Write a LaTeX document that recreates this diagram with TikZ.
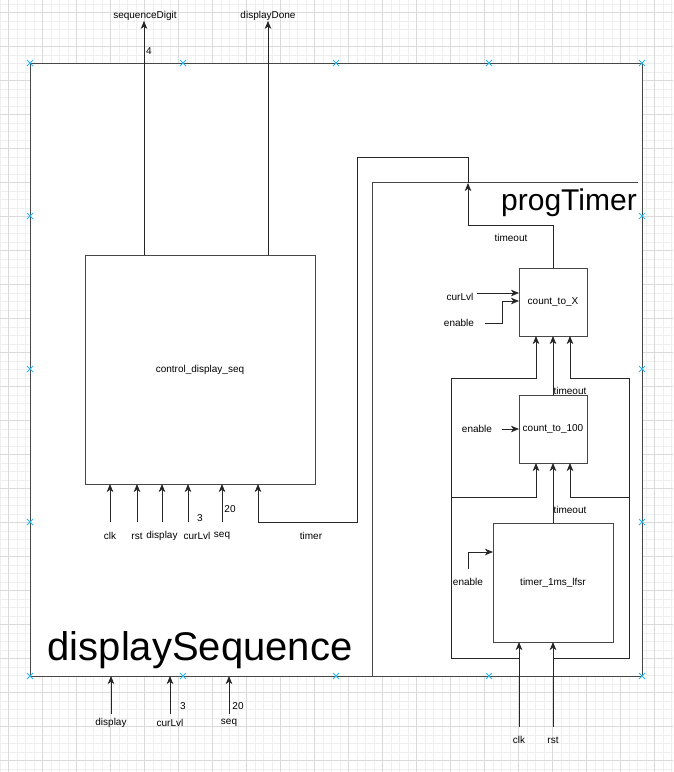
\documentclass[tikz,border=0pt]{standalone}
\usepackage{fontspec}
\setmainfont{Liberation Sans}
\usetikzlibrary{arrows.meta}

\definecolor{gridmin}{HTML}{EFEFEF}
\definecolor{gridmaj}{HTML}{DADADA}
\definecolor{handle}{HTML}{29B6F2}

\begin{document}
\begin{tikzpicture}[x=1pt,y=-1pt,
    frame/.style={draw=black!72, line width=0.9pt},
    block/.style={frame, fill=white, inner sep=0pt, outer sep=0pt, font=\fontsize{10}{12}\selectfont},
    wire/.style={draw=black!85, line width=0.85pt},
    sig/.style={wire, -{Stealth[length=8pt,width=6.5pt,inset=2.2pt]}},
    lbl/.style={inner sep=0pt, font=\fontsize{10}{12}\selectfont},
    hdl/.style={draw=handle, line width=1pt}]
  \useasboundingbox (0,0) rectangle (673,772);

  % Background grid
  \foreach \k in {-1,...,79}
    \draw[gridmin, line width=0.5pt] ({8.3+8.5*\k},0) -- ({8.3+8.5*\k},772);
  \foreach \k in {-2,...,90}
    \draw[gridmin, line width=0.5pt] (0,{12.7+8.5*\k}) -- (673,{12.7+8.5*\k});
  \foreach \k in {0,...,19}
    \draw[gridmaj, line width=0.6pt] ({8.3+34*\k},0) -- ({8.3+34*\k},772);
  \foreach \k in {0,...,22}
    \draw[gridmaj, line width=0.6pt] (0,{12.7+34*\k}) -- (673,{12.7+34*\k});

  % displaySequence
  \node[block, minimum width=612pt, minimum height=613pt] (dseq) at (336,369.5) {};
  \node[anchor=base, inner sep=0pt, font=\fontsize{40}{44}\selectfont] (dstitle) at (200,660) {displaySequence};

  % control_display_seq
  \node[block, minimum width=230pt, minimum height=229pt] (ctrl) at (200,369.5) {control\_display\_seq};

  % Outputs
  \node[lbl] (sdl) at (145,16) {sequenceDigit};
  \coordinate (sdo) at (144,255);
  \draw[sig] (sdo) -- (sdo |- sdl.south);
  \node[lbl] (w4) at (149,51) {4};
  \node[lbl] (ddl) at (268,16) {displayDone};
  \coordinate (ddo) at (268,255);
  \draw[sig] (ddo) -- (ddo |- ddl.south);

  % Inputs of control_display_seq
  \foreach \x/\lx/\txt [count=\i] in {110/110/clk, 137/137/rst, 162/162/display, 188/197/curLvl, 222/222/seq} {
    \coordinate (cin\i) at (\x,522);
    \node[lbl] (cinl\i) at (\lx,536) {\txt};
    \draw[sig] (cin\i) -- (cin\i |- ctrl.south);
  }
  \node[lbl] (w3a) at (200,518) {3};
  \node[lbl] (w20a) at (230,509) {20};

  % Inputs of displaySequence
  \foreach \x/\txt [count=\i] in {111/display, 170/curLvl, 229/seq} {
    \coordinate (din\i) at (\x,714);
    \node[lbl] (dinl\i) at (\x,723) {\txt};
    \draw[sig] (din\i) -- (din\i |- dseq.south);
  }
  \node[lbl] (w3b) at (183,706) {3};
  \node[lbl] (w20b) at (238,706) {20};

  % progTimer
  \node[inner sep=0pt, minimum width=265pt, minimum height=494pt] (ptimer) at (505.5,430) {};
  \draw[frame] (ptimer.south west) |- (ptimer.north east);
  \node[anchor=base east, inner sep=0pt, font=\fontsize{30}{34}\selectfont] (pttitle) at (637,210) {progTimer};

  \node[block, minimum size=68pt] (cx) at (553,302) {count\_to\_X};
  \node[block, minimum size=68pt] (c100) at (553,429) {count\_to\_100};
  \node[block, minimum width=120pt, minimum height=119pt] (tl) at (553,582.5) {timer\_1ms\_lfsr};

  % timeout chain
  \coordinate (pto) at (468,183);
  \coordinate (tob) at (468,225);
  \draw[sig] (cx.north) |- (tob) -- (pto);
  \node[lbl] (to1) at (511,238) {timeout};
  \draw[sig] (c100.north) -- (cx.south);
  \node[lbl] (to2) at (570,391) {timeout};
  \draw[sig] (tl.north) -- (c100.south);
  \node[lbl] (to3) at (570,510) {timeout};

  % timer back to control_display_seq
  \coordinate (tm1) at (468,157);
  \coordinate (tm2) at (357,522);
  \coordinate (tmr) at (258,522);
  \draw[sig] (pto) -- (tm1) -| (tm2) -- (tmr) -- (tmr |- ctrl.south);
  \node[lbl] (tmrl) at (311,536) {timer};

  % enable / curLvl
  \node[lbl] (cxl1) at (460,297) {curLvl};
  \coordinate (cxa) at (477,293);
  \draw[sig] (cxa) -- (cxa -| cx.west);
  \node[lbl] (cxl2) at (459,323) {enable};
  \coordinate (cxb) at (485,323);
  \coordinate (cxbt) at (502,301);
  \draw[sig] (cxb) -| (cxbt) -- (cxbt -| cx.west);
  \node[lbl] (c100l) at (477,429) {enable};
  \coordinate (c100a) at (502,429);
  \draw[sig] (c100a) -- (c100a -| c100.west);
  \node[lbl] (tll) at (468,582) {enable};
  \coordinate (tla) at (468,569);
  \coordinate (tlb) at (468,552);
  \draw[sig] (tla) -- (tlb) -- (tlb -| tl.west);

  % clk and rst
  \coordinate (clkin) at (519,727);
  \node[lbl] (clkl) at (519,740) {clk};
  \draw[sig] (clkin) -- (clkin |- tl.south);
  \coordinate (rstin) at (553,727);
  \node[lbl] (rstl) at (553,740) {rst};
  \draw[sig] (rstin) -- (rstin |- tl.south);

  \coordinate (clkj) at (519,658);
  \coordinate (ck2) at (451,378);
  \coordinate (ck3) at (451,497);
  \coordinate (cxs1) at (536,336);
  \coordinate (c100s1) at (536,463);
  \draw[sig] (clkj) -| (ck2) -| (cxs1);
  \draw[sig] (ck3) -| (c100s1);
  \coordinate (rstj) at (553,658);
  \coordinate (rk2) at (629,378);
  \coordinate (rk3) at (629,497);
  \coordinate (cxs3) at (570,336);
  \coordinate (c100s3) at (570,463);
  \draw[sig] (rstj) -| (rk2) -| (cxs3);
  \draw[sig] (rk3) -| (c100s3);

  % Selection handles
  \foreach \x/\y in {30/63, 183/63, 336/63, 489/63, 642/63, 30/216, 30/369, 30/522, 642/216, 642/369, 642/522, 30/676, 183/676, 336/676, 489/676, 642/676}
    \draw[hdl, shift={(\x,\y)}] (-3,-3) -- (3,3) (-3,3) -- (3,-3);
\end{tikzpicture}
\end{document}
